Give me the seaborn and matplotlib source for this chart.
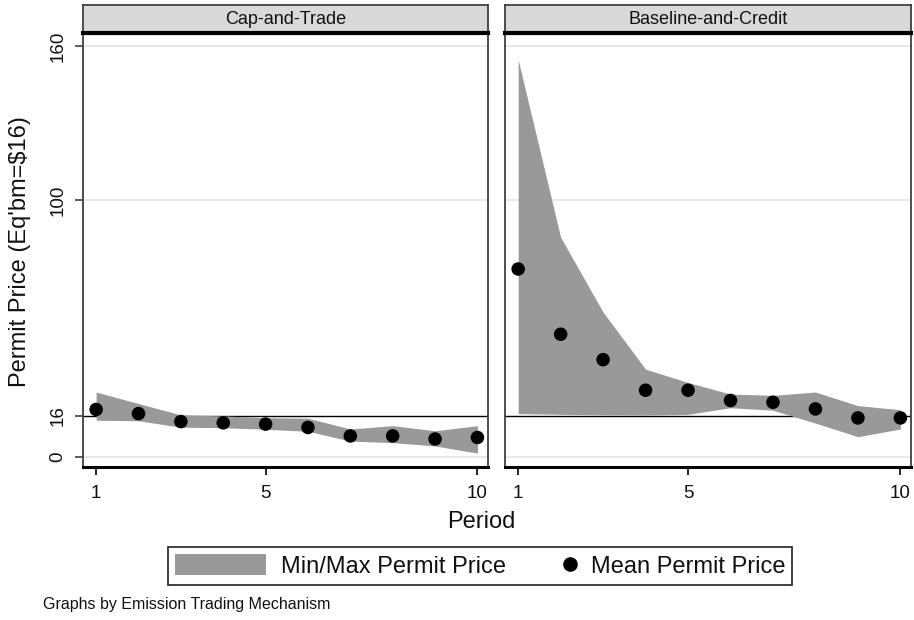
import matplotlib
matplotlib.use("Agg")
import matplotlib.pyplot as plt
from matplotlib.patches import Patch
from matplotlib.lines import Line2D
from matplotlib.legend_handler import HandlerLine2D
import seaborn as sns
import pandas as pd

# ---------------- data ----------------
periods = [1, 2, 3, 4, 5, 6, 7, 8, 9, 10]
panels = ["Cap-and-Trade", "Baseline-and-Credit"]

ct_mean = [18.5, 16.9, 13.8, 13.3, 12.8, 11.5, 8.2, 8.2, 7.0, 7.6]
ct_max = [25.3, 20.8, 16.4, 16.0, 15.3, 15.1, 10.9, 12.2, 10.2, 12.2]
ct_min = [14.3, 14.1, 11.6, 11.4, 10.8, 10.0, 6.2, 5.6, 4.3, 1.5]

bc_mean = [73.2, 47.8, 37.9, 26.0, 26.0, 22.0, 21.3, 18.7, 15.2, 15.2]
bc_max = [154.7, 85.6, 56.4, 34.2, 29.0, 24.5, 24.0, 25.3, 20.0, 18.4]
bc_min = [16.9, 16.6, 16.4, 16.3, 16.6, 19.2, 18.2, 13.2, 7.9, 10.9]

equilibrium = 16
y_ticks = [0, 16, 100, 160]
x_ticks = [1, 5, 10]
grid_vals = [0, 100, 160]

rows = []
for name, mean, lo, hi in [(panels[0], ct_mean, ct_min, ct_max),
                           (panels[1], bc_mean, bc_min, bc_max)]:
    for p, m, a, b in zip(periods, mean, lo, hi):
        rows.append({"mech": name, "period": p, "mean": m, "min": a, "max": b})
df = pd.DataFrame(rows)

# ---------------- style ----------------
sns.set_theme(style="white")
FONT = ["Liberation Sans", "DejaVu Sans"]
plt.rcParams["font.family"] = FONT

W, H = 914, 620
fig = plt.figure(figsize=(W / 100, H / 100), dpi=100)
fig.patch.set_facecolor("white")

def fx(px):
    return px / W

def fy(py):
    return 1 - py / H

FILL = "#999999"
FRAME = "#404040"
TXT = "#111111"
plot_top, plot_bot = 33, 467
panel_x = [(83, 488), (505, 911)]

for i, (name, (x0, x1)) in enumerate(zip(panels, panel_x)):
    ax = fig.add_axes([fx(x0), fy(plot_bot), fx(x1 - x0), (plot_bot - plot_top) / H])
    sub = df[df["mech"] == name]
    for g in grid_vals:
        ax.axhline(g, color="#e6e6e6", lw=1.3, zorder=0)
    ax.axhline(equilibrium, color="black", lw=1.0, zorder=1)
    ax.fill_between(sub["period"], sub["min"], sub["max"], color=FILL, lw=0, zorder=2)
    sns.scatterplot(data=sub, x="period", y="mean", ax=ax, color="black",
                    s=95, edgecolor="none", zorder=3, legend=False)
    ax.set_xlim(0.69, 10.25)
    ax.set_ylim(-3.9, 165.1)
    ax.set_xticks(x_ticks)
    ax.set_xticklabels([str(t) for t in x_ticks])
    ax.set_yticks(y_ticks)
    ax.tick_params(axis="x", bottom=True, length=6, width=1.2, color="black",
                   labelsize=13.5, pad=7, direction="out", labelcolor=TXT)
    if i == 0:
        ax.set_yticklabels([str(t) for t in y_ticks], rotation=90, va="center")
        ax.tick_params(axis="y", left=True, length=6, width=1.2, color=FRAME,
                       labelsize=13.5, pad=6, direction="out", labelcolor=TXT)
    else:
        ax.set_yticklabels([])
        ax.tick_params(axis="y", left=False, labelleft=False)
    ax.set_xlabel("")
    ax.set_ylabel("")
    for s in ["left", "right", "top"]:
        ax.spines[s].set_color(FRAME)
        ax.spines[s].set_linewidth(1.3)
        ax.spines[s].set_visible(True)
    ax.spines["bottom"].set_color("black")
    ax.spines["bottom"].set_linewidth(2.2)
    ax.set_facecolor("white")

    # strip header
    sax = fig.add_axes([fx(x0), fy(plot_top), fx(x1 - x0), (plot_top - 5) / H])
    sax.set_facecolor("#d9d9d9")
    sax.set_xticks([])
    sax.set_yticks([])
    for s in ["left", "right", "top"]:
        sax.spines[s].set_color(FRAME)
        sax.spines[s].set_linewidth(1.3)
    sax.spines["bottom"].set_color("black")
    sax.spines["bottom"].set_linewidth(3)
    sax.text(0.5, 0.5, name, ha="center", va="center", fontsize=13,
             transform=sax.transAxes, color=TXT)

fig.text(fx(20), fy(252), "Permit Price (Eq'bm=$16)", rotation=90,
         ha="center", va="center", fontsize=17, color=TXT)
fig.text(fx(481), fy(522), "Period", ha="center", va="center",
         fontsize=17, color=TXT)
fig.text(fx(43), fy(605), "Graphs by Emission Trading Mechanism", ha="left",
         va="center", fontsize=11.5, color=TXT)


class RightMarker(HandlerLine2D):
    def create_artists(self, legend, orig_handle, xdescent, ydescent, width,
                       height, fontsize, trans):
        arts = super().create_artists(legend, orig_handle, xdescent, ydescent,
                                      width, height, fontsize, trans)
        for a in arts:
            if isinstance(a, Line2D):
                xs = a.get_xdata()
                a.set_xdata([width - xdescent - 4] * len(xs))
        return arts


h_fill = Patch(facecolor=FILL, edgecolor="none", label="Min/Max Permit Price")
h_mean = Line2D([], [], marker="o", linestyle="None", color="black",
                markersize=9.5, label="Mean Permit Price")
leg = fig.legend(handles=[h_fill, h_mean], ncol=2, loc="center",
                 bbox_to_anchor=(fx(480), fy(566)), frameon=True,
                 fancybox=False, edgecolor="black", fontsize=17,
                 handlelength=3.85, handleheight=1.0, handletextpad=0.65,
                 columnspacing=-0.9, borderpad=0.3,
                 handler_map={h_mean: RightMarker()})
leg.get_frame().set_linewidth(1.3)
for t in leg.get_texts():
    t.set_color(TXT)

fig.savefig("out.png", dpi=100, facecolor="white")
